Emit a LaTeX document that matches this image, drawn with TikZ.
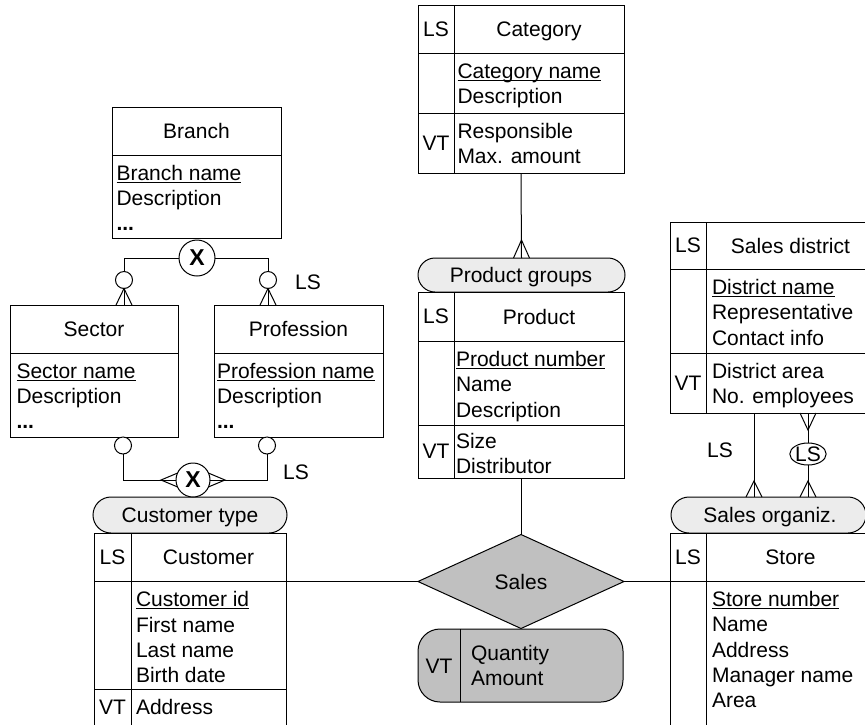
\documentclass[tikz,border=0pt]{standalone}
\usepackage{fontspec}
\setmainfont{Liberation Sans}
\usetikzlibrary{shapes.geometric,calc}
\definecolor{lightfill}{RGB}{236,236,236}
\definecolor{darkfill}{RGB}{192,192,192}
\newcommand\keyname[1]{\setbox0=\hbox{#1}\rlap{\rule[-2.8pt]{\wd0}{1.3pt}}\box0}
\begin{document}
\begin{tikzpicture}[x=1pt,y=-1pt,line width=1pt,
  every node/.style={inner sep=0pt,outer sep=0pt,font=\fontsize{21}{25.4}\selectfont},
  ent/.style={draw,rectangle,anchor=north west},
  pill/.style={draw,rectangle,fill=lightfill,anchor=north west},
  txt/.style={anchor=base west},
  ctxt/.style={anchor=base},
  tag/.style={anchor=center},
  smallc/.style={draw,circle,minimum size=17pt,fill=white},
  xc/.style={draw,circle,fill=white,font=\fontsize{23}{27}\selectfont\bfseries}]
\useasboundingbox (0,0) rectangle (865,724);
\fill[white] (0,0) rectangle (865,724);
\clip (0,0) rectangle (865,724);

% ---------- boxes ----------
\node[ent,minimum width=169pt,minimum height=131pt] (branch) at (112,107) {};
\node[ent,minimum width=168pt,minimum height=132pt] (sector) at (10,305) {};
\node[ent,minimum width=169pt,minimum height=132pt] (prof) at (214,305) {};
\node[ent,minimum width=206pt,minimum height=168pt] (cat) at (418,5) {};
\node[pill,rounded corners=17pt,minimum width=207pt,minimum height=34pt] (pg) at (418,258) {};
\node[ent,minimum width=206pt,minimum height=186pt] (prod) at (418,292) {};
\node[ent,minimum width=205pt,minimum height=191pt] (sd) at (670,222) {};
\node[pill,rounded corners=18pt,minimum width=195pt,minimum height=36pt] (so) at (671,497) {};
\node[ent,minimum width=205pt,minimum height=210pt] (store) at (670,533) {};
\node[pill,rounded corners=18pt,minimum width=194pt,minimum height=36pt] (ctype) at (93,497) {};
\node[ent,minimum width=192pt,minimum height=210pt] (cust) at (94,533) {};
\node[draw,diamond,fill=darkfill,minimum width=206pt,minimum height=94pt] (sales) at (521,581.5) {};
\node[draw,rounded corners=22pt,fill=darkfill,minimum width=205pt,minimum height=73pt,anchor=north west] (qty) at (418,629) {};

% ---------- inner dividers ----------
\draw (112,155) -- (281,155);
\draw (10,353) -- (178,353);
\draw (214,353) -- (383,353);
\draw (418,53) -- (624,53) (418,113) -- (624,113) (454,5) -- (454,173);
\draw (418,341) -- (624,341) (418,425) -- (624,425) (454,292) -- (454,478);
\draw (670,269) -- (875,269) (670,353) -- (875,353) (706,222) -- (706,413);
\draw (670,581) -- (875,581) (706,533) -- (706,743);
\draw (94,581) -- (286,581) (94,689) -- (286,689) (131,533) -- (131,743);
\draw (460,629) -- (460,702);

% ---------- texts ----------
\node[ctxt] (t-branch) at (196.5,138.5) {Branch};
\node[txt] (t-bn) at (116.5,180.5) {\keyname{Branch name}};
\node[txt] (t-bd) at (116.5,205.5) {Description};
\node[txt] (t-be) at (116.5,230.5) {\textbf{...}};

\node[ctxt] (t-sector) at (94,336.5) {Sector};
\node[txt] (t-sn) at (16.5,378.5) {\keyname{Sector name}};
\node[txt] (t-sd) at (16.5,403.5) {Description};
\node[txt] (t-se) at (16.5,428.5) {\textbf{...}};

\node[ctxt] (t-prof) at (298.5,336.5) {Profession};
\node[txt] (t-pn) at (217,378.5) {\keyname{Profession name}};
\node[txt] (t-pd) at (217,403.5) {Description};
\node[txt] (t-pe) at (217,428.5) {\textbf{...}};

\node[tag] (t-catls) at (436,29) {LS};
\node[ctxt] (t-cat) at (539,36.5) {Category};
\node[txt] (t-cn) at (457.5,78.5) {\keyname{Category name}};
\node[txt] (t-cd) at (457.5,103.5) {Description};
\node[tag] (t-catvt) at (436,143) {VT};
\node[txt] (t-cr) at (457.5,138.5) {Responsible};
\node[txt] (t-cm) at (457.5,163.5) {Max. amount};

\node[ctxt] (t-pg) at (521,282.5) {Product groups};
\node[tag] (t-prls) at (436,316.5) {LS};
\node[ctxt] (t-prod) at (539,324) {Product};
\node[txt] (t-prn) at (456,366.5) {\keyname{Product number}};
\node[txt] (t-prna) at (456,391.5) {Name};
\node[txt] (t-prd) at (456,417) {Description};
\node[tag] (t-prvt) at (436,451.5) {VT};
\node[txt] (t-prs) at (456,448) {Size};
\node[txt] (t-prdi) at (456,473.5) {Distributor};

\node[tag] (t-sdls) at (688,245.5) {LS};
\node[ctxt] (t-sd) at (790.5,253) {Sales district};
\node[txt] (t-sdn) at (712,294.5) {\keyname{District name}};
\node[txt] (t-sdr) at (712,319.5) {Representative};
\node[txt] (t-sdc) at (712,345.5) {Contact info};
\node[tag] (t-sdvt) at (688,383.5) {VT};
\node[txt] (t-sda) at (712,378.5) {District area};
\node[txt] (t-sde) at (712,403.5) {No. employees};

\node[ctxt] (t-so) at (770,522.5) {Sales organiz.};
\node[tag] (t-stls) at (688,557) {LS};
\node[ctxt] (t-store) at (790.5,564.5) {Store};
\node[txt] (t-stn) at (712,606.5) {\keyname{Store number}};
\node[txt] (t-stna) at (712,631.5) {Name};
\node[txt] (t-sta) at (712,657.5) {Address};
\node[txt] (t-stm) at (712,682.5) {Manager name};
\node[txt] (t-star) at (712,707.5) {Area};

\node[ctxt] (t-ctype) at (190,522.5) {Customer type};
\node[tag] (t-culs) at (112.5,557) {LS};
\node[ctxt] (t-cust) at (208.5,564.5) {Customer};
\node[txt] (t-cui) at (136,606.5) {\keyname{Customer id}};
\node[txt] (t-cuf) at (136,632.5) {First name};
\node[txt] (t-cul) at (136,657.5) {Last name};
\node[txt] (t-cub) at (136,682.5) {Birth date};
\node[tag] (t-cuvt) at (112.5,707) {VT};
\node[txt] (t-cua) at (136,714.5) {Address};

\node[ctxt] (t-sales) at (521,589) {Sales};
\node[tag] (t-qvt) at (439,666) {VT};
\node[txt] (t-qq) at (471,660.5) {Quantity};
\node[txt] (t-qa) at (471,685.5) {Amount};

\node[tag] (ls1) at (308,282) {LS};
\node[tag] (ls2) at (296,472) {LS};
\node[tag] (ls3) at (720,450) {LS};

% ---------- branch / sector / profession ----------
\node[xc,minimum size=36pt] (xtop) at (197,258) {X};
\node[smallc] (c1) at (124,280) {};
\node[smallc] (c2) at (268,280) {};
\draw (xtop.west) -| (c1.north);
\draw (xtop.east) -| (c2.north);
\draw (c1.south) -- (c1.south |- sector.north);
\draw ($(c1.south |- sector.north)+(-8,0)$) -- (c1.south) -- ($(c1.south |- sector.north)+(8,0)$);
\draw (c2.south) -- (c2.south |- prof.north);
\draw ($(c2.south |- prof.north)+(-8,0)$) -- (c2.south) -- ($(c2.south |- prof.north)+(8,0)$);

\node[xc,minimum size=34pt] (xbot) at (193,480) {X};
\node[smallc] (c3) at (123,445.5) {};
\node[smallc] (c4) at (267,445.5) {};
\draw (c3.south) |- (xbot.west);
\draw (c4.south) |- (xbot.east);
\draw (xbot.156) -- ($(xbot.west)+(-15,0)$) -- (xbot.204);
\draw (xbot.24) -- ($(xbot.east)+(15,0)$) -- (xbot.-24);

% ---------- category / product / sales ----------
\draw (cat.south) -- (pg.north);
\draw ($(pg.north)+(-8,0)$) -- ($(pg.north)+(0,-18)$) -- ($(pg.north)+(8,0)$);
\draw (prod.south) -- (sales.north);
\draw (sales.west) -- (sales.west -| cust.east);
\draw (sales.east) -- (sales.east -| store.west);

% ---------- sales district / sales organiz. ----------
\coordinate (a1) at (754,413);
\coordinate (b1) at (754,497);
\coordinate (a2) at (808,413);
\coordinate (b2) at (808,497);
\node[draw,ellipse,minimum width=36pt,minimum height=22pt] (lsell) at (808,454) {LS};
\draw (a1) -- (b1);
\draw ($(b1)+(-8,0)$) -- ($(b1)+(0,-16)$) -- ($(b1)+(8,0)$);
\draw (a2) -- (lsell.north);
\draw (lsell.south) -- (b2);
\draw ($(a2)+(-8,0)$) -- ($(a2)+(0,17)$) -- ($(a2)+(8,0)$);
\draw ($(b2)+(-8,0)$) -- ($(b2)+(0,-16)$) -- ($(b2)+(8,0)$);
\end{tikzpicture}
\end{document}
